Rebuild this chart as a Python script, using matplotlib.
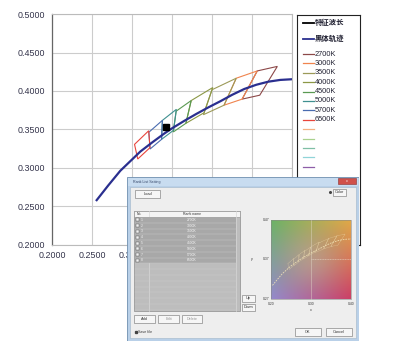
import numpy as np
import matplotlib
matplotlib.use('Agg')
import matplotlib.pyplot as plt
from matplotlib.patches import Rectangle, Polygon

plt.rcParams['font.family'] = ['Liberation Sans', 'Noto Sans CJK SC', 'DejaVu Sans']

# ---------------- data ----------------
locus_x = [0.2546, 0.2700, 0.2850, 0.3000, 0.3100, 0.3250, 0.3400, 0.3500, 0.3650,
           0.3800, 0.3950, 0.4100, 0.4250, 0.4400, 0.4550, 0.4700, 0.4850, 0.5000]
locus_y = [0.2566, 0.2770, 0.2960, 0.3110, 0.3210, 0.3330, 0.3445, 0.3515, 0.3610,
           0.3700, 0.3785, 0.3865, 0.3950, 0.4025, 0.4080, 0.4120, 0.4143, 0.4152]

marker_x = [0.3417]
marker_y = [0.3529]

cct_labels = ['2700K', '3000K', '3500K', '4000K', '4500K', '5000K', '5700K', '6500K']
quad_x = [
    [0.4813, 0.4562, 0.4373, 0.4593],
    [0.4562, 0.4299, 0.4147, 0.4373],
    [0.4299, 0.3996, 0.3889, 0.4147],
    [0.4006, 0.3736, 0.3670, 0.3898],
    [0.3736, 0.3548, 0.3512, 0.3670],
    [0.3551, 0.3376, 0.3366, 0.3515],
    [0.3376, 0.3207, 0.3222, 0.3366],
    [0.3205, 0.3028, 0.3068, 0.3221],
]
quad_y = [
    [0.4319, 0.4260, 0.3893, 0.3944],
    [0.4260, 0.4165, 0.3814, 0.3893],
    [0.4165, 0.4015, 0.3690, 0.3814],
    [0.4044, 0.3874, 0.3578, 0.3716],
    [0.3874, 0.3736, 0.3465, 0.3578],
    [0.3760, 0.3616, 0.3369, 0.3487],
    [0.3616, 0.3462, 0.3243, 0.3369],
    [0.3481, 0.3304, 0.3113, 0.3261],
]
quad_colors = ['#8c4848', '#f0844e', '#9c9a58', '#8c9846', '#5a9a52', '#3f9090', '#4a6cb0', '#e8453c']
extra_colors = ['#f4b183', '#a9d18e', '#7fbfa5', '#90d4d8', '#8e5ea8']

xticks = [0.20, 0.25, 0.30, 0.35, 0.40, 0.45, 0.50]
yticks = [0.20, 0.25, 0.30, 0.35, 0.40, 0.45, 0.50]
xtick_labels = ['0.2000', '0.2500', '0.3000', '0.3500', '0.4000', '0.4500', '0.5000']
ytick_labels = ['0.2000', '0.2500', '0.3000', '0.3500', '0.4000', '0.4500', '0.5000']

label_wave = '特征波长'
label_locus = '黑体轨迹'

# dialog (screenshot) texts
dlg_title = 'Rank List Setting'
dlg_rows = cct_labels

# ---------------- figure ----------------
W, H = 397, 354
fig = plt.figure(figsize=(W / 100, H / 100), dpi=100)
fig.patch.set_facecolor('white')


def fax(x0, y0, x1, y1):
    return [x0 / W, 1 - y1 / H, (x1 - x0) / W, (y1 - y0) / H]


ax = fig.add_axes(fax(52.3, 14.1, 292.3, 244.5))
ax.set_xlim(0.2, 0.5)
ax.set_ylim(0.2, 0.5)
ax.set_xticks(xticks)
ax.set_xticklabels(xtick_labels)
ax.set_yticks(yticks)
ax.set_yticklabels(ytick_labels)
ax.grid(True, color='#cccccc', lw=0.8)
ax.set_axisbelow(True)
ax.tick_params(length=0, labelsize=6.4, colors='#33334a')
ax.tick_params(axis='y', pad=5)
ax.tick_params(axis='x', pad=4.5)
for s in ['top', 'right', 'bottom']:
    ax.spines[s].set_color('#bbbbbb')
    ax.spines[s].set_linewidth(0.8)
ax.spines['left'].set_color('#666666')
ax.spines['left'].set_linewidth(0.9)

for qx, qy, c in zip(quad_x, quad_y, quad_colors):
    ax.add_patch(Polygon(list(zip(qx, qy)), closed=True, fill=False, edgecolor=c, lw=0.8))
ax.plot(locus_x, locus_y, color='#2a2f8f', lw=1.6, solid_capstyle='butt')
ax.plot(marker_x, marker_y, 's', color='black', ms=4.2)

# ---------------- legend ----------------
lg = fig.add_axes(fax(297, 15, 360, 245))
lg.set_xlim(297, 360)
lg.set_ylim(245, 15)
lg.set_xticks([])
lg.set_yticks([])
for s in lg.spines.values():
    s.set_color('#222222')
    s.set_linewidth(0.8)

entries = [(label_wave, 'black', 1.3), (label_locus, '#2a2f8f', 1.3)]
ys = [23, 39]
for i, lab in enumerate(cct_labels):
    entries.append((lab, quad_colors[i], 0.9))
for c in extra_colors:
    entries.append(('', c, 0.9))
ys += [54 + 9.4 * k for k in range(len(entries) - 2)]
for (lab, c, lw), yy in zip(entries, ys):
    lg.plot([303, 314], [yy, yy], color=c, lw=lw)
    if lab:
        lg.text(315, yy, lab, fontsize=5.3, va='center', ha='left', color='#222233',
                fontweight='bold' if not lab.endswith('K') else 'normal')

# ---------------- dialog screenshot ----------------
dx0, dy0, dx1, dy1 = 127, 177, 359, 341
dl = fig.add_axes(fax(dx0, dy0, dx1, dy1))
dl.set_xlim(dx0, dx1)
dl.set_ylim(dy1, dy0)
dl.axis('off')


def rect(x0, y0, x1, y1, fc, ec='none', lw=0.5, z=1):
    dl.add_patch(Rectangle((x0, y0), x1 - x0, y1 - y0, facecolor=fc, edgecolor=ec, lw=lw, zorder=z))


def txt(x, y, s, size=2.8, ha='left', color='#333333', z=5):
    dl.text(x, y, s, fontsize=size, ha=ha, va='center', color=color, zorder=z)


def button(x0, y0, x1, y1, s, color='#333333'):
    rect(x0, y0, x1, y1, '#f6f6f6', '#8a8a8a', 0.5, 3)
    txt((x0 + x1) / 2, (y0 + y1) / 2, s, ha='center', color=color)


# window frame
rect(dx0, dy0, dx1, dy1, '#b9d0e8', '#6f8fb0', 0.6, 1)
rect(dx0 + 1, dy0 + 1, dx1 - 1, dy0 + 9, '#c8dcf0', 'none', 0, 1)
txt(133, 182, dlg_title, size=2.6, color='#334466')
rect(338, 178, 356, 184.5, '#d0504a', '#8a3030', 0.4, 3)
txt(347, 181.2, 'x', size=2.6, ha='center', color='white')
# body
rect(130, 187, 356, 338, '#eeeeee', '#9fb4c8', 0.4, 2)

button(135, 190, 160, 198, 'Load')
dl.plot([330], [192.5], 'o', color='#444444', ms=1.2, zorder=4)
button(333, 189, 346, 196, 'Color')

# table
rect(134, 211, 240, 311, '#bdbdbd', '#8c8c8c', 0.5, 3)
rect(134, 211, 240, 217, '#f4f4f4', '#8c8c8c', 0.4, 4)
txt(137, 214, 'No.', size=2.5)
txt(192, 214, 'Rank name', size=2.5, ha='center')
dl.plot([149, 149], [211, 311], color='#d8d8d8', lw=0.5, zorder=4)
dl.plot([236, 236], [211, 311], color='#d8d8d8', lw=0.5, zorder=4)
row_h = 5.8
for i, name in enumerate(dlg_rows):
    ry = 217 + i * row_h
    rect(134.5, ry, 236, ry + row_h, '#a8a8a8', 'none', 0, 4)
    dl.plot([134.5, 236], [ry + row_h, ry + row_h], color='#c6c6c6', lw=0.35, zorder=5)
    rect(136, ry + 1.4, 139, ry + 4.4, '#f0f0f0', '#555555', 0.3, 6)
    txt(140.5, ry + row_h / 2, str(i + 1), size=2.4, color='#f4f4f4', z=6)
    txt(192, ry + row_h / 2, name, size=2.4, ha='center', color='#f8f8f8', z=6)
for k in range(8):
    ry = 217 + 8 * row_h + k * row_h
    if ry + row_h < 310:
        dl.plot([134.5, 236], [ry + row_h, ry + row_h], color='#cdcdcd', lw=0.35, zorder=5)

button(242, 295, 255, 302, 'Up')
button(242, 304, 255, 311, 'Down')
button(134, 315, 155, 323, 'Add')
button(158, 315, 179, 323, 'Edit', color='#999999')
button(182, 315, 202, 323, 'Delete', color='#999999')
dl.plot([135.5], [332], 's', color='#444444', ms=1.4, zorder=5)
txt(138, 332, 'Save file', size=2.6)
button(295, 328, 321, 336, 'OK')
button(326, 328, 352, 336, 'Cancel')

# colour chart
cx0, cy0, cx1, cy1 = 271, 220, 351, 299
tl = np.array([0.42, 0.70, 0.40])
tr = np.array([0.88, 0.66, 0.28])
bl = np.array([0.58, 0.54, 0.80])
br = np.array([0.80, 0.25, 0.40])
n = 60
u = np.linspace(0, 1, n)[None, :, None]
v = np.linspace(0, 1, n)[:, None, None]
img = (1 - v) * ((1 - u) * tl + u * tr) + v * ((1 - u) * bl + u * br)
mid = np.exp(-(((u - 0.5) ** 2 + (v - 0.5) ** 2) / 0.12))
img = img * (1 - 0.25 * mid) + 0.25 * mid * np.array([0.85, 0.78, 0.72])
dl.imshow(np.clip(img, 0, 1), extent=(cx0, cx1, cy1, cy0), aspect='auto', zorder=3, interpolation='bilinear')
rect(cx0, cy0, cx1, cy1, 'none', '#888888', 0.4, 4)
dl.plot([311, 311], [cy0, cy1], color='#e8e0d0', lw=0.4, alpha=0.7, zorder=4)
dl.plot([311, cx1], [259.5, 259.5], color='#f0e8d8', lw=0.4, ls=(0, (2, 1)), alpha=0.8, zorder=4)

ins = fig.add_axes(fax(cx0, cy0, cx1, cy1))
ins.set_xlim(0.25, 0.50)
ins.set_ylim(0.21, 0.48)
ins.axis('off')
ins.patch.set_alpha(0)
ins.plot(locus_x, locus_y, color='#f3e6b8', lw=0.6, ls=(0, (2, 1.2)), alpha=0.9)
for qx, qy in zip(quad_x, quad_y):
    ins.add_patch(Polygon(list(zip(qx, qy)), closed=True, fill=False, edgecolor='#f0dcb0',
                          lw=0.35, ls=(0, (1.5, 1)), alpha=0.8))

for yy, s in [(cy0, '0.47'), (259.5, '0.37'), (cy1, '0.27')]:
    txt(cx0 - 1.5, yy, s, size=2.4, ha='right')
txt(252, 259.5, 'y', size=2.6, ha='center')
for xx, s in [(cx0, '0.20'), (311, '0.30'), (cx1, '0.40')]:
    txt(xx, 304, s, size=2.4, ha='center')
txt(311, 310, 'x', size=2.6, ha='center')

fig.savefig('out.png', dpi=100, facecolor='white')
